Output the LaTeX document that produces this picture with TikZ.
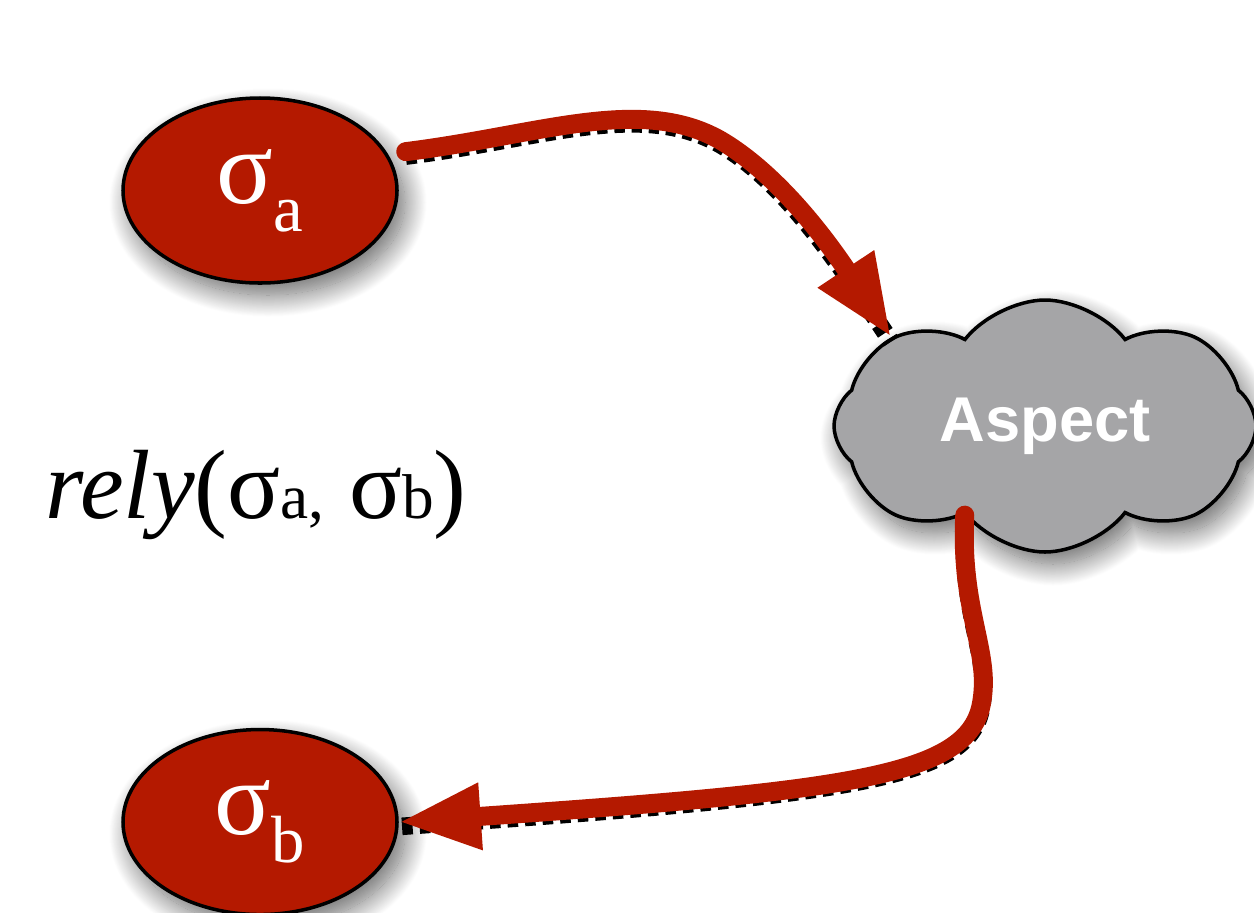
\documentclass[tikz,border=0pt]{standalone}
\usepackage{fontspec}
\setmainfont{Liberation Serif}
\newfontfamily\labelfont{Liberation Sans}
\usetikzlibrary{arrows.meta,positioning,shapes.geometric,shapes.symbols,shadows.blur}
\definecolor{StateColor}{RGB}{180,25,0}
\definecolor{CloudColor}{RGB}{165,165,167}
\newcommand{\lowsub}[3][19pt]{\raisebox{#2}{\fontsize{#1}{#1}\selectfont #3}}

\begin{document}
\begin{tikzpicture}[>={Triangle[length=8.2mm, width=6.2mm]}, node distance=4.43cm,
    softshadow/.style={blur shadow={shadow xshift=0.8mm, shadow yshift=-1.2mm, shadow blur radius=2.2mm,
      shadow blur steps=30, shadow opacity=60}},
    statenode/.style={ellipse, draw, line width=1pt, fill=StateColor, text=white,
      minimum width=2.74cm, minimum height=1.85cm, inner sep=0pt, softshadow},
    flow/.style={->, draw=StateColor, line width=5.4pt, line cap=round,
      preaction={draw=black, -, line width=5pt, line cap=butt, dash pattern=on 3pt off 2pt,
        transform canvas={yshift=-0.45mm}}}]
  \useasboundingbox (0,0) rectangle (12.54,-9.12);
  % states
  \node[statenode] (sa) at (2.60,-1.905) {\fontsize{30}{30}\selectfont σ\lowsub{-8pt}{a}};
  \node[statenode, below=of sa] (sb) {\fontsize{30}{30}\selectfont σ\lowsub{-8pt}{b}};
  % aspect cloud
  \node[cloud, cloud puffs=8, cloud puff arc=105, cloud ignores aspect, draw, line width=1pt,
    fill=CloudColor, text=white, minimum width=4.22cm, minimum height=2.52cm, softshadow]
    (ac) at (10.45,-4.26) {\labelfont\bfseries\fontsize{18}{20}\selectfont\raisebox{-0.9mm}{Aspect}};
  % relation
  \node (rely) at (2.56,-4.95) {\fontsize{28}{30}\selectfont \textit{rely}(σ\lowsub[18pt]{0pt}{a,} σ\lowsub[18pt]{0pt}{b})};
  \draw[flow, shorten <=1.8mm] (sa.16) .. controls (5.4,-1.35) and (6.4,-0.95) .. (7.2,-1.40)
    .. controls (7.8,-1.75) and (8.3,-2.45) .. (ac.150);
  \draw[flow] (ac.228) .. controls (9.6,-6.1) and (9.9,-6.5) .. (9.82,-7.0)
    .. controls (9.72,-7.75) and (8.6,-7.9) .. (sb.0);
\end{tikzpicture}
\end{document}
